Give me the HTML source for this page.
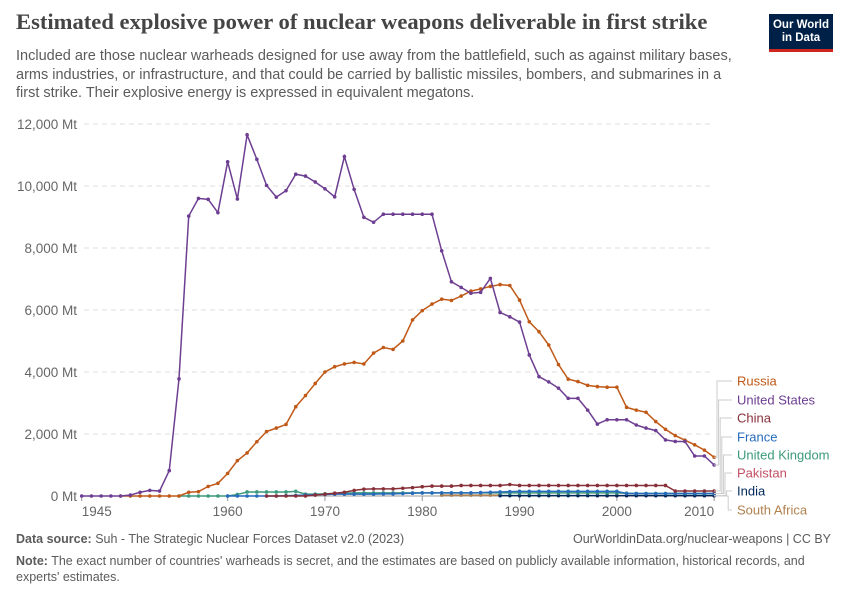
<!DOCTYPE html>
<html><head><meta charset="utf-8"><style>
body{margin:0;width:850px;height:600px;background:#fff;font-family:"Liberation Sans",sans-serif;overflow:hidden;position:relative}
.t{position:absolute;left:16px;top:9px;font-family:"Liberation Serif",serif;font-weight:bold;font-size:22.6px;color:#444}
.s{position:absolute;left:16px;top:47px;width:736px;font-size:14.5px;line-height:18.5px;color:#5b5b5b}
.logo{position:absolute;left:769px;top:14px;width:64px;height:38px;background:#002147;border-bottom:3px solid #ce261e;color:#fff;font-size:11.5px;line-height:13px;text-align:center;box-sizing:border-box;padding-top:5px;font-weight:bold}
.f{position:absolute;left:16px;font-size:12.5px;color:#5b5b5b}
</style></head><body>
<div class="t">Estimated explosive power of nuclear weapons deliverable in first strike</div>
<div class="s">Included are those nuclear warheads designed for use away from the battlefield, such as against military bases, arms industries, or infrastructure, and that could be carried by ballistic missiles, bombers, and submarines in a<br>first strike. Their explosive energy is expressed in equivalent megatons.</div>
<div class="logo">Our World<br>in Data</div>
<svg id="c" width="850" height="600" style="position:absolute;left:0;top:0" xmlns="http://www.w3.org/2000/svg"></svg>
<div class="f" style="top:532px"><b>Data source:</b> Suh - The Strategic Nuclear Forces Dataset v2.0 (2023)</div>
<div class="f" style="top:532px;left:auto;right:19px">OurWorldinData.org/nuclear-weapons | CC BY</div>
<div class="f" style="top:553px;width:820px;line-height:16px"><b>Note:</b> The exact number of countries' warheads is secret, and the estimates are based on publicly available information, historical records, and experts' estimates.</div>
<script>
var X=y=>81.7+(y-1945)*9.73, Y=v=>496-v*0.031;
var s='';
for(var i=0;i<=6;i++){var yy=Y(i*2000);
 s+='<text x="77" y="'+(yy+5)+'" text-anchor="end" font-size="13.5" fill="#666">'+(i?(i*2)+',000':'0')+' Mt</text>';
 if(i) s+='<line x1="84" x2="712" y1="'+yy+'" y2="'+yy+'" stroke="#ddd" stroke-dasharray="5,4"/>';}
s+='<line x1="82" x2="712" y1="496" y2="496" stroke="#999"/>';
[[1945,'start'],[1960,'middle'],[1970,'middle'],[1980,'middle'],[1990,'middle'],[2000,'middle'],[2010,'end']].forEach(function(a){
 var x=X(a[0]);s+='<line x1="'+x+'" x2="'+x+'" y1="496" y2="501" stroke="#999"/><text x="'+x+'" y="516" text-anchor="'+a[1]+'" font-size="13.5" fill="#666">'+a[0]+'</text>';});
function ser(start,vals,col){var pts=vals.map((v,i)=>[X(start+i),Y(v)]);
 s+='<polyline fill="none" stroke="'+col+'" stroke-width="1.5" points="'+pts.map(p=>p.join(',')).join(' ')+'"/>';
 pts.forEach(p=>s+='<circle cx="'+p[0]+'" cy="'+p[1]+'" r="1.8" fill="'+col+'"/>');}
function rep(v,n){return Array(n).fill(v)}
ser(1982,rep(30,7),'#b1814f');
ser(1998,rep(10,13),'#c15065');
ser(1988,rep(12,23),'#00295b');
ser(1955,[0,0,0,0,0,0,50,130,130,130,130,130,150,60,60,70,80,90,100,100,100,100,100,100,100,100,100,100,100,100,100,100,100,100,100,100,100,100,100,100,100,100,100,100,100,100,90,80,80,80,80,80,80,80,80,80],'#3c9a7d');
ser(1960,[0,0,0,0,0,0,10,20,30,40,50,60,60,60,60,60,70,70,80,90,100,100,100,100,100,100,110,120,130,140,150,150,150,150,150,150,150,150,150,150,150,80,80,80,80,80,80,80,80,80,80],'#286bbb');
ser(1964,[0,0,0,0,0,30,60,90,120,180,220,230,230,230,250,270,300,320,320,320,340,340,340,340,340,370,340,340,340,340,340,340,340,340,340,340,340,340,340,340,340,340,160,160,160,160,160],'#883039');
ser(1949,[0,0,0,0,0,0,0,120,140,310,410,730,1140,1390,1750,2080,2190,2310,2880,3240,3630,4000,4170,4260,4310,4260,4610,4790,4730,5000,5680,5980,6190,6350,6310,6450,6610,6680,6760,6820,6790,6320,5620,5300,4870,4240,3770,3690,3570,3530,3510,3510,2860,2770,2700,2400,2150,1950,1800,1650,1480,1250],'#c05917');
ser(1945,[0,0,0,0,0,30,120,180,160,820,3780,9030,9600,9570,9140,10780,9580,11650,10860,10020,9640,9850,10380,10320,10130,9910,9650,10950,9890,8990,8830,9090,9090,9090,9090,9090,9090,7910,6910,6730,6540,6570,7020,5920,5780,5610,4550,3850,3680,3480,3150,3150,2770,2320,2460,2460,2460,2290,2190,2110,1810,1760,1760,1290,1290,1000],'#6d3e91');
var L=[['Russia','#c05917',381,1250],['United States','#6d3e91',400,1000],['China','#883039',418,160],['France','#286bbb',437,80],['United Kingdom','#3c9a7d',455,80],['Pakistan','#c15065',473,10],['India','#00295b',491,12],['South Africa','#b1814f',510,0]];
L.forEach(function(l,i){var yd=Y(l[3]),xm=717+i*1.6;
 s+='<polyline fill="none" stroke="#ccc" points="714,'+yd+' '+xm+','+yd+' '+xm+','+l[2]+' 732,'+l[2]+'"/>';
 s+='<text x="737" y="'+(l[2]+4.5)+'" font-size="13" fill="'+l[1]+'">'+l[0]+'</text>';});
document.getElementById('c').innerHTML=s;
</script>
</body></html>
